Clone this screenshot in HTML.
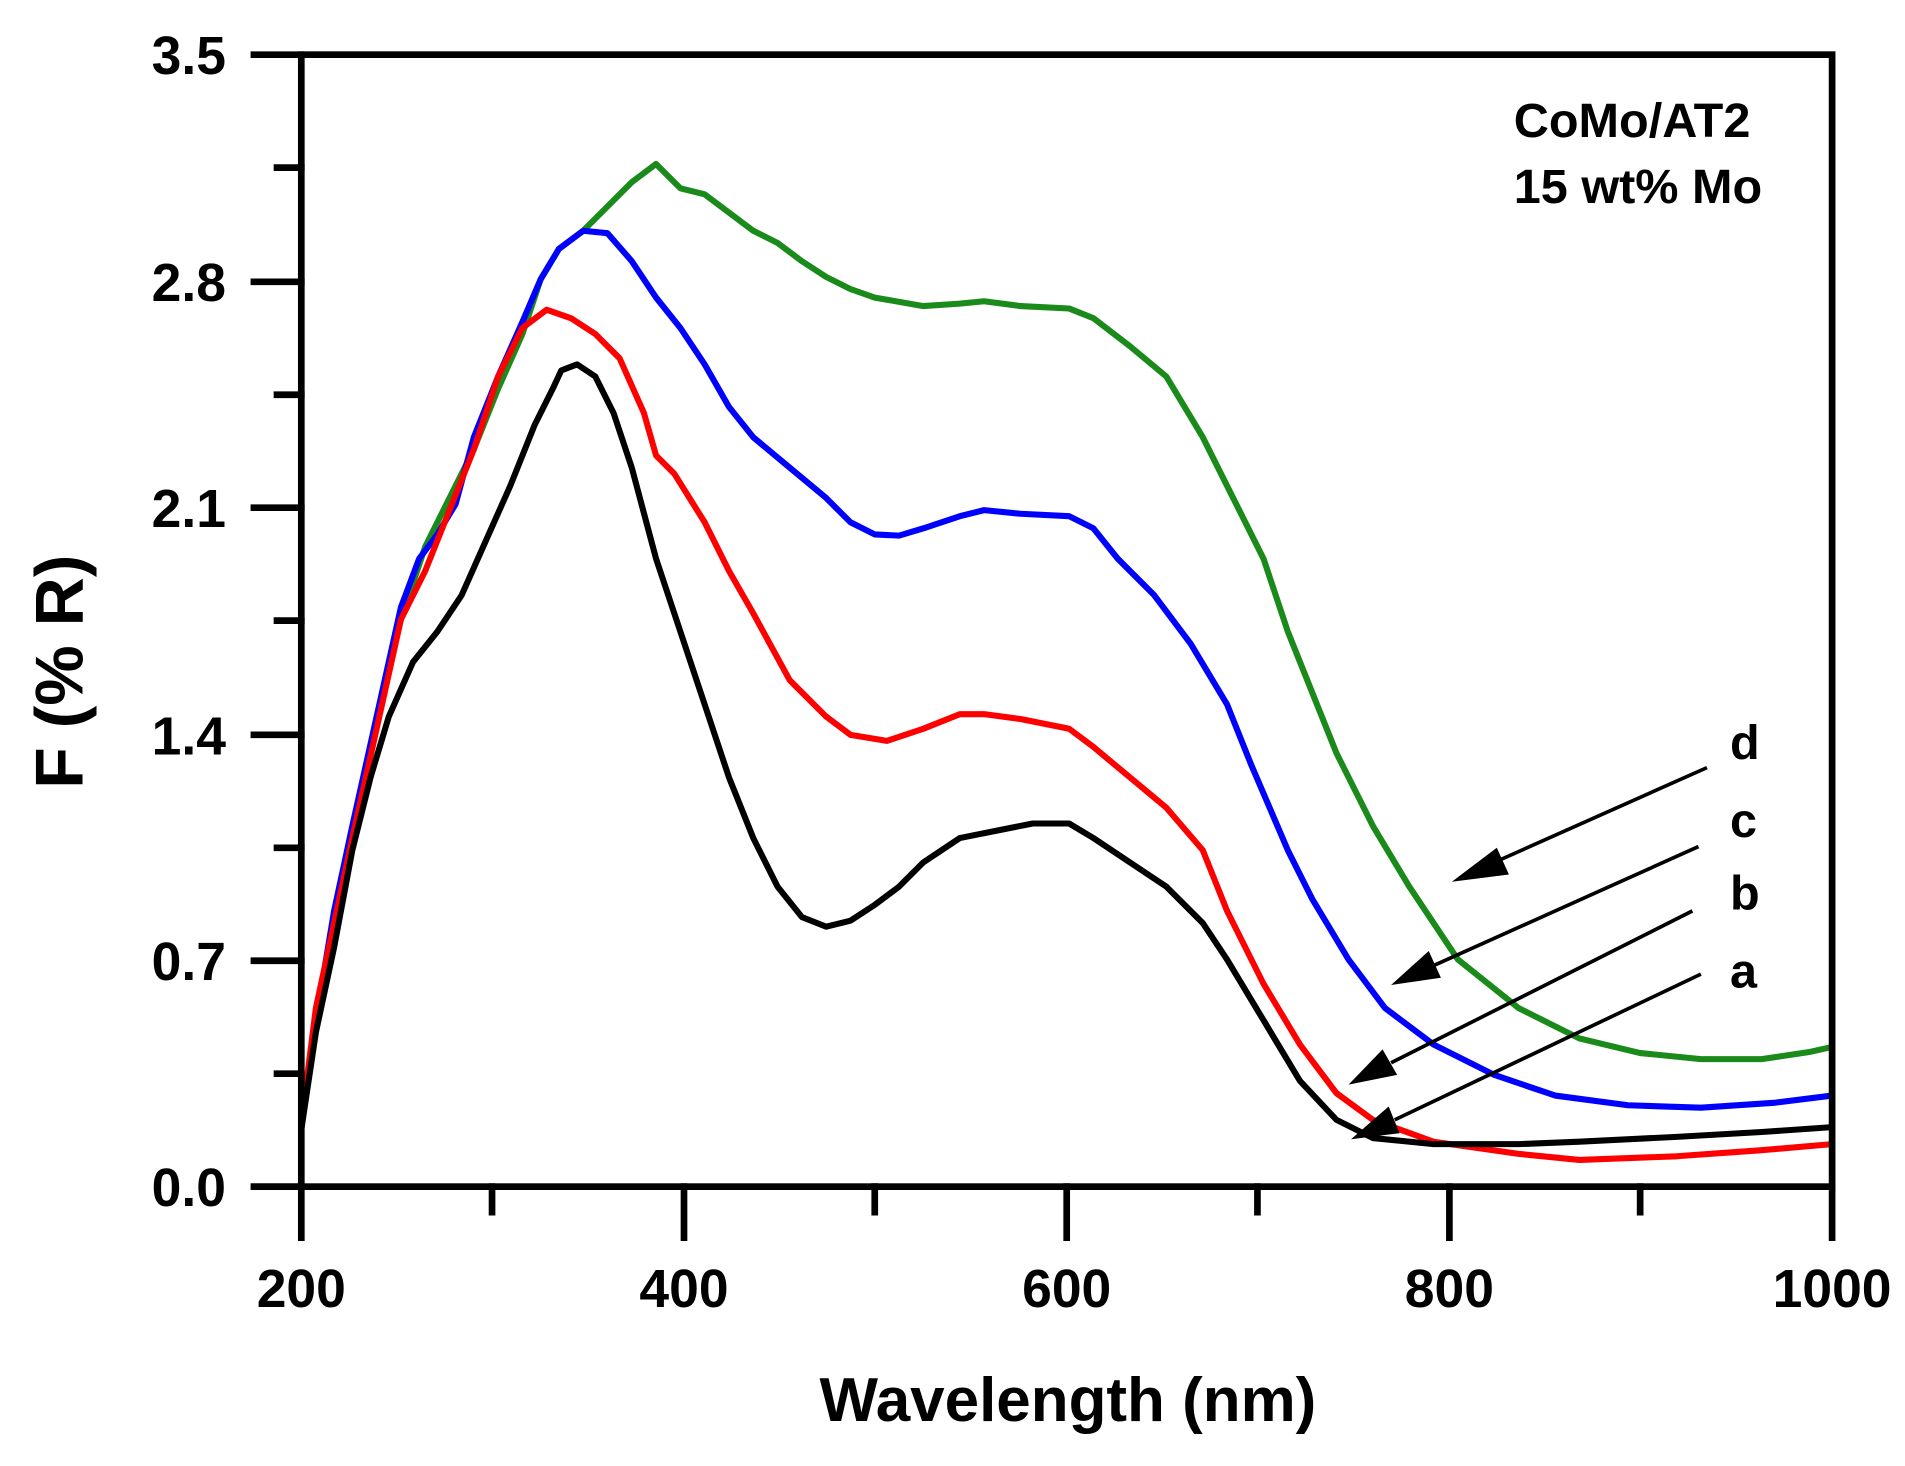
<!DOCTYPE html>
<html><head><meta charset="utf-8"><style>html,body{margin:0;padding:0;background:#fff;}svg{display:block}</style></head>
<body>
<svg width="1905" height="1466" viewBox="0 0 1568 1207" preserveAspectRatio="none" xmlns="http://www.w3.org/2000/svg" font-family="Liberation Sans, Arial, sans-serif" font-weight="bold">
<g fill="none" stroke-width="5" stroke-linejoin="round" stroke-linecap="round">
<polyline stroke="#1a8a1a" points="248,930 260,840 275,760 290,690 310,590 330,510 350,450 370,410 390,370 410,320 430,275 445,230 460,205 480,190 500,170 520,150 540,135 560,155 580,160 600,175 620,190 640,200 660,215 680,228 700,238 720,245 760,252 790,250 810,248 840,252 880,254 900,262 930,285 960,310 990,360 1010,400 1040,460 1060,520 1080,570 1100,620 1130,680 1160,730 1200,790 1250,830 1300,855 1350,867 1400,872 1450,872 1490,866 1508,862"/>
<polyline stroke="#0000ff" points="248,925 260,840 275,750 290,680 310,590 330,500 345,460 360,440 375,415 390,360 410,310 430,265 445,230 460,205 480,190 500,192 520,215 540,245 560,270 580,300 600,335 620,360 650,385 680,410 700,430 720,440 740,441 760,435 790,425 810,420 840,423 880,425 900,435 920,460 950,490 980,530 1010,580 1030,630 1060,700 1080,740 1110,790 1140,830 1180,860 1230,885 1280,902 1340,910 1400,912 1460,908 1508,902"/>
<polyline stroke="#ff0000" points="248,925 260,830 275,760 290,690 310,600 330,510 350,470 370,420 390,370 410,310 430,270 450,255 470,262 490,275 510,295 530,340 540,375 555,390 580,430 600,470 620,505 650,560 680,590 700,605 730,610 760,600 790,588 810,588 840,592 880,600 900,615 930,640 960,665 990,700 1010,750 1040,810 1070,860 1100,900 1130,922 1180,940 1250,950 1300,955 1380,952 1450,947 1508,942"/>
<polyline stroke="#000" points="248,930 260,850 275,780 290,700 305,640 320,590 340,545 360,520 380,490 400,445 420,400 440,350 455,320 462,305 475,300 490,310 505,340 520,385 540,460 560,520 580,580 600,640 620,690 640,730 660,755 680,763 700,758 720,745 740,730 760,710 790,690 820,684 850,678 880,678 900,690 930,710 960,730 990,760 1010,790 1040,840 1070,890 1100,922 1130,937 1180,942 1250,942 1300,940 1380,936 1450,932 1508,928"/>
</g>
<g stroke="#000" stroke-width="5.5" fill="none" stroke-linecap="square">
<rect x="248" y="45" width="1260" height="932"/>
<line x1="209" y1="45" x2="248" y2="45"/><line x1="209" y1="232" x2="248" y2="232"/><line x1="209" y1="418" x2="248" y2="418"/><line x1="209" y1="605" x2="248" y2="605"/><line x1="209" y1="791" x2="248" y2="791"/><line x1="209" y1="977" x2="248" y2="977"/>
<line x1="228" y1="138" x2="248" y2="138"/><line x1="228" y1="325" x2="248" y2="325"/><line x1="228" y1="511" x2="248" y2="511"/><line x1="228" y1="698" x2="248" y2="698"/><line x1="228" y1="884" x2="248" y2="884"/>
<line x1="248" y1="977" x2="248" y2="1019"/><line x1="563" y1="977" x2="563" y2="1019"/><line x1="878" y1="977" x2="878" y2="1019"/><line x1="1193" y1="977" x2="1193" y2="1019"/><line x1="1508" y1="977" x2="1508" y2="1019"/>
<line x1="405" y1="977" x2="405" y2="998"/><line x1="720" y1="977" x2="720" y2="998"/><line x1="1035" y1="977" x2="1035" y2="998"/><line x1="1350" y1="977" x2="1350" y2="998"/>
</g>
<g stroke="#000" stroke-width="3">
<line x1="1405" y1="632" x2="1230" y2="710"/><line x1="1398" y1="697" x2="1180" y2="795"/><line x1="1393" y1="750" x2="1145" y2="875"/><line x1="1400" y1="802" x2="1148" y2="922"/>
</g>
<g fill="#000">
<polygon points="1195,726 1232,698 1242,720"/>
<polygon points="1145,811 1176,783 1186,805"/>
<polygon points="1110,893 1138,864 1150,885"/>
<polygon points="1112,938 1143,911 1152,933"/>
</g>
<g font-size="44" text-anchor="end">
<text x="186" y="61">3.5</text><text x="186" y="248">2.8</text><text x="186" y="434">2.1</text><text x="186" y="621">1.4</text><text x="186" y="807">0.7</text><text x="186" y="993">0.0</text>
</g>
<g font-size="44" text-anchor="middle">
<text x="248" y="1076">200</text><text x="563" y="1076">400</text><text x="878" y="1076">600</text><text x="1193" y="1076">800</text><text x="1508" y="1076">1000</text>
</g>
<text x="879" y="1170" font-size="51" text-anchor="middle">Wavelength (nm)</text>
<text transform="translate(68,553) rotate(-90)" font-size="56" text-anchor="middle">F (% R)</text>
<g font-size="40">
<text x="1246" y="113">CoMo/AT2</text><text x="1246" y="167">15 wt%  Mo</text>
</g>
<g font-size="40">
<text x="1424" y="625">d</text><text x="1424" y="689">c</text><text x="1424" y="749">b</text><text x="1424" y="813">a</text>
</g>
</svg>
</body></html>
